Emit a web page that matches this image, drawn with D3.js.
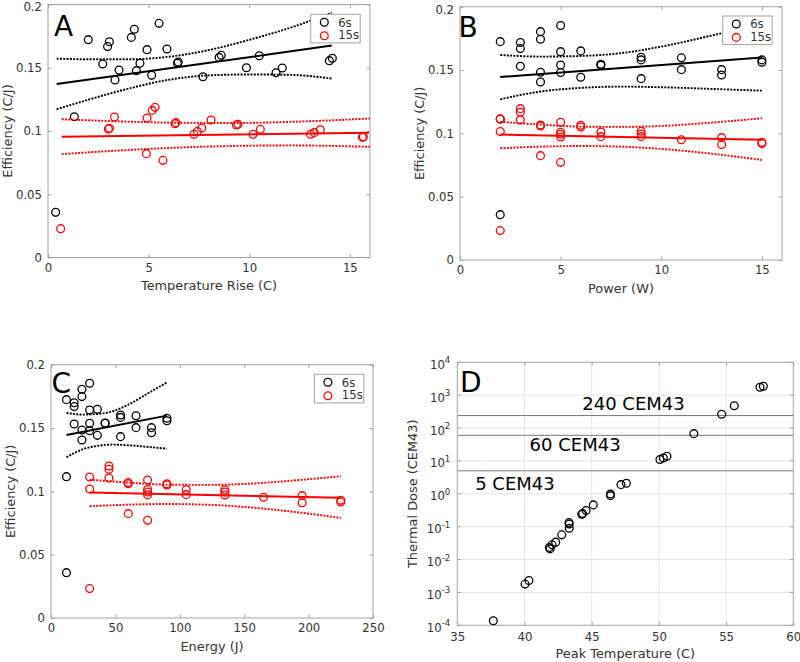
<!DOCTYPE html>
<html><head><meta charset="utf-8">
<script src="https://cdn.jsdelivr.net/npm/d3@7"></script>
<style>
body{margin:0;background:#fff;}
svg{display:block;font-family:"DejaVu Sans",sans-serif;}
</style></head><body>
<svg id="c" width="800" height="662"></svg>
<script>
// ---------- DATA ----------
// Panel A: Temperature rise vs efficiency
const aX6 = [0.38,1.31,2.0,2.72,2.96,3.05,3.33,3.53,4.14,4.29,4.39,4.57,4.92,5.15,5.52,5.91,6.43,6.47,7.70,8.50,8.61,9.86,10.5,11.33,11.64,13.98,14.13];
const aY6 = [0.0357,0.1113,0.1722,0.153,0.1667,0.1706,0.1403,0.1482,0.174,0.1804,0.1477,0.1535,0.1643,0.144,0.1851,0.1648,0.1535,0.1545,0.1429,0.1582,0.1598,0.15,0.1595,0.1461,0.1498,0.1556,0.1575];
const aX15 = [0.63,3.0,3.05,3.30,4.89,4.92,5.18,5.32,5.71,6.31,6.36,7.25,7.42,7.64,8.10,9.36,9.44,10.19,10.55,13.05,13.23,13.53,15.62,15.67];
const aY15 = [0.0228,0.1016,0.1022,0.1111,0.0821,0.1103,0.1163,0.1187,0.0768,0.1058,0.1066,0.0974,0.0997,0.1024,0.1087,0.1047,0.1053,0.0974,0.1013,0.0974,0.0987,0.101,0.095,0.0955];
const aFit6X = [0.43,14.1], aFit6Y = [0.1372,0.1675];
const aBand6X = [0.43,2,4,6,8,10,12,14.1];
const aBand6Up = [0.1572,0.1567,0.1567,0.1587,0.164,0.1721,0.1814,0.1935];
const aBand6Lo = [0.1172,0.1247,0.1335,0.1405,0.144,0.1447,0.1444,0.1415];
const aFit15X = [0.68,15.95], aFit15Y = [0.0955,0.0987];
const aBand15X = [0.68,3,6,9,12,16];
const aBand15Up = [0.1093,0.1079,0.1066,0.1063,0.1072,0.1099];
const aBand15Lo = [0.0817,0.0841,0.0866,0.0881,0.0886,0.0875];

// Panel B: Power vs efficiency
const bX6 = [2,2,2,3,3,3,4,4,4,4,5,5,5,5,6,6,7,7,9,9,9,11,11,13,13,15,15];
const bY6 = [0.1724,0.1113,0.0358,0.1717,0.1669,0.153,0.1803,0.1743,0.1483,0.1406,0.1851,0.1645,0.154,0.148,0.1651,0.1443,0.1546,0.1538,0.1601,0.158,0.1432,0.1596,0.1503,0.1503,0.1461,0.158,0.1562];
const bX15 = [2,2,2,3,3,3,4,4,4,5,5,5,5,5,6,6,7,7,9,9,9,11,13,13,15,15];
const bY15 = [0.1114,0.1014,0.0232,0.1195,0.1166,0.1106,0.1066,0.1058,0.0824,0.1087,0.1008,0.0993,0.0971,0.0771,0.1064,0.105,0.1011,0.0974,0.1016,0.0995,0.0974,0.095,0.0966,0.0911,0.093,0.0919];
const bFit6X = [2,15], bFit6Y = [0.1445,0.1598];
const bBand6X = [2,4,6,8,10,13,15];
const bBand6Up = [0.1619,0.1606,0.1611,0.1633,0.1685,0.179,0.186];
const bBand6Lo = [0.1269,0.1330,0.1359,0.1369,0.1364,0.1348,0.1337];
const bFit15X = [2,15], bFit15Y = [0.099,0.095];
const bBand15X = [2,4,6,8,10,12,15];
const bBand15Up = [0.1092,0.1069,0.1053,0.1051,0.1058,0.1079,0.1119];
const bBand15Lo = [0.0882,0.0895,0.0900,0.0895,0.0877,0.0848,0.0790];

// Panel C: Energy vs efficiency
const cX6 = [12,12,12,18,18,18,24,24,24,24,30,30,30,30,36,36,42,42,54,54,54,66,66,78,78,90,90];
const cY6 = [0.1724,0.1116,0.0358,0.17,0.1669,0.1532,0.1806,0.1748,0.1484,0.1405,0.1853,0.1642,0.1537,0.1479,0.1648,0.1442,0.154,0.1537,0.1603,0.1584,0.1432,0.1597,0.1503,0.1503,0.1463,0.1577,0.1558];
const cX15 = [30,30,30,45,45,45,60,60,60,75,75,75,75,75,90,90,105,105,135,135,135,165,195,195,225,225];
const cY15 = [0.1113,0.1019,0.0232,0.12,0.1174,0.1105,0.1069,0.106,0.0824,0.109,0.1015,0.0995,0.0972,0.0771,0.106,0.105,0.1013,0.0974,0.1013,0.0995,0.0971,0.0953,0.0966,0.091,0.0929,0.0916];
const cFit6X = [12,90], cFit6Y = [0.1445,0.1598];
const cBand6X = [12,24,36,48,60,78,90];
const cBand6Up = [0.1619,0.1606,0.1611,0.1633,0.1685,0.179,0.186];
const cBand6Lo = [0.1269,0.1330,0.1359,0.1369,0.1364,0.1348,0.1337];
const cFit15X = [30,225], cFit15Y = [0.099,0.095];
const cBand15X = [30,60,90,120,150,180,225];
const cBand15Up = [0.1092,0.1069,0.1053,0.1051,0.1058,0.1079,0.1119];
const cBand15Lo = [0.0882,0.0895,0.0900,0.0895,0.0877,0.0848,0.0790];

// Panel D: Peak temperature vs thermal dose
const dTemp = [37.68,40.04,40.33,41.85,41.9,42.05,42.32,42.77,43.31,43.33,43.33,44.26,44.33,44.58,45.12,46.39,46.4,47.18,47.58,50.08,50.33,50.6,52.6,54.67,55.61,57.52,57.77];
const dDose = [1.37e-4,1.79e-3,2.3e-3,0.0232,0.0211,0.028,0.0338,0.0564,0.133,0.12,0.09,0.24,0.25,0.31,0.46,0.99,0.88,1.9,2.1,11.0,12.3,13.9,67.6,263,478,1740,1860];
const doseLines = [5,60,240];
const doseLabels = ["5 CEM43","60 CEM43","240 CEM43"];

// Tick labels
const effTicks = [0,0.05,0.1,0.15,0.2];
const effTickLabels = ["0","0.05","0.1","0.15","0.2"];
const tempTicks = [0,5,10,15];
const powerTicks = [0,5,10,15];
const energyTicks = [0,50,100,150,200,250];
const peakTicks = [35,40,45,50,55,60];
const doseExp = [-4,-3,-2,-1,0,1,2,3,4];
const legendLabels = ["6s","15s"];

// ---------- DRAWING ----------
const svg = d3.select("#c");
const AXC = "#a3a3a3", TXT = "#333333", TF = 11.7, LF = 12.9;
let clipId = 0;

function frame(g, x, y, xTicks, xFmt, yTicks, yFmt, xPad) {
  const [x0,x1] = x.range(), [y0,y1] = y.range();
  const tl = 3.5;
  const bottom = d3.axisBottom(x).tickValues(xTicks).tickSize(-tl).tickPadding(xPad).tickFormat(xFmt);
  const top = d3.axisTop(x).tickValues(xTicks).tickSize(-tl).tickFormat("");
  const gb = g.append("g").attr("transform",`translate(0,${y0})`).call(bottom);
  const gt = g.append("g").attr("transform",`translate(0,${y1})`).call(top);
  const gl = g.append("g").attr("transform",`translate(${x0},0)`);
  const gr = g.append("g").attr("transform",`translate(${x1},0)`);
  if (yFmt) {
    gl.call(d3.axisLeft(y).tickValues(yTicks).tickSize(-tl).tickPadding(6).tickFormat(yFmt));
    gr.call(d3.axisRight(y).tickValues(yTicks).tickSize(-tl).tickFormat(""));
    gl.selectAll(".tick text").filter(d => y(d) < 8).attr("dy","0.55em");
  }
  [gb,gt,gl,gr].forEach(a => {
    a.select(".domain").remove();
    a.selectAll("line").attr("stroke",AXC);
    a.selectAll("text").attr("fill",TXT).attr("font-size",TF).attr("font-family","DejaVu Sans");
  });
  g.append("rect").attr("x",x0).attr("y",y1).attr("width",x1-x0).attr("height",y0-y1)
    .attr("fill","none").attr("stroke",AXC).attr("stroke-width",1);
}

function labels(g, x, y, xl, yl) {
  const [x0,x1] = x.range(), [y0,y1] = y.range();
  g.append("text").attr("x",(x0+x1)/2).attr("y",y0+32.5).attr("text-anchor","middle")
    .attr("font-size",LF).attr("fill",TXT).text(xl);
  g.append("text").attr("transform",`translate(${x0-36.5},${(y0+y1)/2}) rotate(-90)`)
    .attr("text-anchor","middle").attr("font-size",LF).attr("fill",TXT).text(yl);
}

function clip(g, x, y) {
  const id = "clip"+(clipId++);
  const [x0,x1] = x.range(), [y0,y1] = y.range();
  g.append("clipPath").attr("id",id).append("rect").attr("x",x0).attr("y",y1).attr("width",x1-x0).attr("height",y0-y1);
  return g.append("g").attr("clip-path",`url(#${id})`);
}

function effPanel(o) {
  const g = svg.append("g");
  const x = d3.scaleLinear().domain(o.xDomain).range(o.xRange);
  const y = d3.scaleLinear().domain([0,0.2]).range(o.yRange);
  const yFmt = (d,i) => effTickLabels[effTicks.indexOf(d)];
  frame(g, x, y, o.xTicks, d3.format("d"), effTicks, yFmt, 6);
  labels(g, x, y, o.xLabel, "Efficiency (C/J)");
  const p = clip(g, x, y);
  const line = d3.line().x(d=>x(d[0])).y(d=>y(d[1]));
  const curve = d3.line().x(d=>x(d[0])).y(d=>y(d[1])).curve(d3.curveMonotoneX);
  const series = [
    {col:"#000", X:o.x6, Y:o.y6, fx:o.fit6X, fy:o.fit6Y, bx:o.band6X, bu:o.band6Up, bl:o.band6Lo},
    {col:"#ff0000", X:o.x15, Y:o.y15, fx:o.fit15X, fy:o.fit15Y, bx:o.band15X, bu:o.band15Up, bl:o.band15Lo}
  ];
  series.forEach(s => {
    p.selectAll(null).data(d3.zip(s.X,s.Y)).join("circle")
      .attr("cx",d=>x(d[0])).attr("cy",d=>y(d[1])).attr("r",3.9)
      .attr("fill","none").attr("stroke",s.col).attr("stroke-width",1.3);
  });
  series.forEach(s => {
    p.append("path").attr("d",line(d3.zip(s.fx,s.fy))).attr("fill","none").attr("stroke",s.col).attr("stroke-width",2);
    [s.bu,s.bl].forEach(b => {
      p.append("path").attr("d",curve(d3.zip(s.bx,b))).attr("fill","none").attr("stroke",s.col)
        .attr("stroke-width",1.9).attr("stroke-dasharray","2,1.3");
    });
  });
  // panel letter
  g.append("text").attr("x",o.letterPos[0]).attr("y",o.letterPos[1]).attr("font-size",28).attr("fill","#000").text(o.letter);
  // legend
  const [lx,ly] = o.legendPos;
  const L = g.append("g");
  L.append("rect").attr("x",lx).attr("y",ly).attr("width",49.5).attr("height",28.6)
    .attr("fill","#fff").attr("stroke",AXC).attr("stroke-width",1);
  ["#000","#ff0000"].forEach((c,i) => {
    L.append("circle").attr("cx",lx+13.6).attr("cy",ly+8+i*13.4).attr("r",3.9)
      .attr("fill","none").attr("stroke",c).attr("stroke-width",1.3);
    L.append("text").attr("x",lx+27.5).attr("y",ly+12.3+i*12.8).attr("font-size",TF).attr("fill",TXT).text(legendLabels[i]);
  });
}

effPanel({xDomain:[0,16], xRange:[48,370], yRange:[257.5,4.5], xTicks:tempTicks, xLabel:"Temperature Rise (C)",
  x6:aX6, y6:aY6, x15:aX15, y15:aY15, fit6X:aFit6X, fit6Y:aFit6Y, band6X:aBand6X, band6Up:aBand6Up, band6Lo:aBand6Lo,
  fit15X:aFit15X, fit15Y:aFit15Y, band15X:aBand15X, band15Up:aBand15Up, band15Lo:aBand15Lo,
  letter:"A", letterPos:[54,36], legendPos:[310.7,14.3]});
effPanel({xDomain:[0,16], xRange:[460,782], yRange:[260,6.7], xTicks:powerTicks, xLabel:"Power (W)",
  x6:bX6, y6:bY6, x15:bX15, y15:bY15, fit6X:bFit6X, fit6Y:bFit6Y, band6X:bBand6X, band6Up:bBand6Up, band6Lo:bBand6Lo,
  fit15X:bFit15X, fit15Y:bFit15Y, band15X:bBand15X, band15Up:bBand15Up, band15Lo:bBand15Lo,
  letter:"B", letterPos:[458.5,36.7], legendPos:[722.7,16]});
effPanel({xDomain:[0,250], xRange:[51,373], yRange:[618,364.7], xTicks:energyTicks, xLabel:"Energy (J)",
  x6:cX6, y6:cY6, x15:cX15, y15:cY15, fit6X:cFit6X, fit6Y:cFit6Y, band6X:cBand6X, band6Up:cBand6Up, band6Lo:cBand6Lo,
  fit15X:cFit15X, fit15Y:cFit15Y, band15X:cBand15X, band15Up:cBand15Up, band15Lo:cBand15Lo,
  letter:"C", letterPos:[51.5,393.3], legendPos:[314.3,374.3]});

// Panel D
(function(){
  const g = svg.append("g");
  const x = d3.scaleLinear().domain([35,60]).range([457.3,793.3]);
  const y = d3.scaleLog().domain([1e-4,1e4]).range([625.3,362.3]);
  const [x0,x1] = x.range(), [y0,y1] = y.range();
  // grid
  g.selectAll(null).data(peakTicks.slice(1,-1)).join("line")
    .attr("x1",d=>x(d)).attr("x2",d=>x(d)).attr("y1",y1).attr("y2",y0).attr("stroke","#e6e6e6");
  g.selectAll(null).data(doseExp.slice(1,-1)).join("line")
    .attr("y1",d=>y(10**d)).attr("y2",d=>y(10**d)).attr("x1",x0).attr("x2",x1).attr("stroke","#e6e6e6");
  frame(g, x, y, peakTicks, d3.format("d"), null, null, 7);
  // y ticks (log)
  doseExp.forEach(e => {
    const yy = y(10**e);
    g.append("line").attr("x1",x0).attr("x2",x0+3.5).attr("y1",yy).attr("y2",yy).attr("stroke",AXC);
    g.append("line").attr("x1",x1).attr("x2",x1-3.5).attr("y1",yy).attr("y2",yy).attr("stroke",AXC);
    const t = g.append("text").attr("x",x0-7).attr("y",yy+6.5).attr("text-anchor","end")
      .attr("font-size",TF).attr("fill",TXT);
    t.append("tspan").text("10");
    t.append("tspan").attr("dy",-5.5).attr("font-size",8.6).text(e<0 ? "-"+(-e) : String(e));
  });
  labels(g, x, y, "Peak Temperature (C)", "Thermal Dose (CEM43)");
  g.select("text[transform]").attr("transform",`translate(${x0-40},${(y0+y1)/2}) rotate(-90)`);
  const p = clip(g, x, y);
  p.selectAll(null).data(doseLines).join("line")
    .attr("x1",x0).attr("x2",x1).attr("y1",d=>y(d)).attr("y2",d=>y(d)).attr("stroke","#7a7a7a").attr("stroke-width",1);
  p.selectAll(null).data(d3.zip(dTemp,dDose)).join("circle")
    .attr("cx",d=>x(d[0])).attr("cy",d=>y(d[1])).attr("r",3.9)
    .attr("fill","none").attr("stroke","#000").attr("stroke-width",1.3);
  const labelAnchor = [[36.33,1.32],[40.38,19.5],[44.3,355]];
  doseLabels.forEach((s,i) => {
    g.append("text").attr("x",x(labelAnchor[i][0])).attr("y",y(labelAnchor[i][1]))
      .attr("font-size",18).attr("fill","#000").text(s);
  });
  g.append("text").attr("x",460).attr("y",392.3).attr("font-size",28).attr("fill","#000").text("D");
})();
</script>
</body></html>
